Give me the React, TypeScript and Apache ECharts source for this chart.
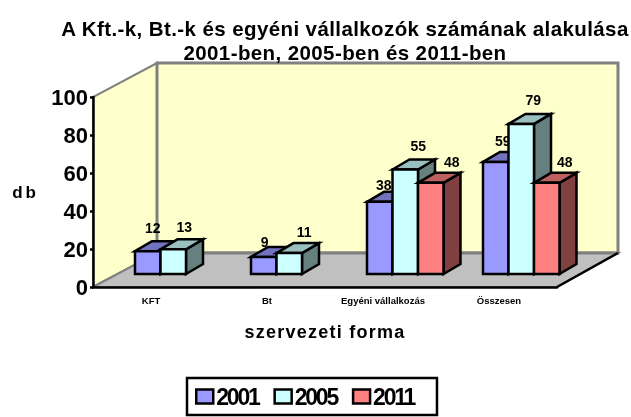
import React, { useEffect, useRef } from "react";
import * as echarts from "echarts";

const categories = ["KFT", "Bt", "Egyéni vállalkozás", "Összesen"];
const seriesNames = ["2001", "2005", "2011"];
const values2001 = [12, 9, 38, 59];
const values2005 = [13, 11, 55, 79];
const values2011 = [null, null, 48, 48];
const yTicks = { min: 0, max: 100, interval: 20 };
const titleText = "A Kft.-k, Bt.-k és egyéni vállalkozók számának alakulása\n2001-ben, 2005-ben és 2011-ben";
const xName = "szervezeti forma";
const yName = "db";

// layout of the pseudo-3D look
const WALL_DX = 64;
const WALL_DX_RIGHT = 61;
const WALL_DY = 34;
const BAR_DX = 17;
const BAR_DY = 10;
const BAR_SHIFT_X = 24;
const BAR_SHIFT_Y = 13;
const BAR_GROUP_GAP = 18;
const BAR_W = 25.5;
const LABEL_NUDGE = [
  [[5, 23], [1, 15], [4, 17], [7, 21]],
  [[11, 22], [15, 21], [13, 24], [12, 24]],
  [[0, 0], [0, 0], [21, 21], [18, 21]],
];
const FACES = [
  { front: "#9999FF", top: "#7272BF", side: "#4D4D80" },
  { front: "#CCFFFF", top: "#99BFBF", side: "#668080" },
  { front: "#FF8080", top: "#BF6060", side: "#804040" },
];
const TEXT_SPACING_CSS = `
#chart3d svg text[style*=" 20.5px"] { letter-spacing: 0.4px; }
#chart3d svg text[style*=" 18px"] { letter-spacing: 1.25px; }
#chart3d svg text[style*=" 17px"] { letter-spacing: 3px; }
#chart3d svg text[style*=" 23px"] { letter-spacing: -2.2px; }
`;

function poly(points: number[][], fill: string, stroke: string, lineWidth: number) {
  return { type: "polygon", shape: { points }, style: { fill, stroke, lineWidth, lineJoin: "miter" } };
}

function makeBarRender(seriesIdx: number) {
  return (params: any, api: any) => {
    const v = api.value(1);
    if (v === null || v === undefined || isNaN(v)) return null;
    const i = api.value(0);
    const band = api.size([1, 0])[0];
    const center = api.coord([i, 0]);
    const topC = api.coord([i, v]);
    const xl = center[0] - band / 2 + BAR_GROUP_GAP + BAR_SHIFT_X + seriesIdx * BAR_W;
    const xr = xl + BAR_W;
    const yb = center[1] - BAR_SHIFT_Y;
    const yt = topC[1] - BAR_SHIFT_Y;
    const c = FACES[seriesIdx];
    const nudge = LABEL_NUDGE[seriesIdx][i];
    return {
      type: "group",
      children: [
        {
          type: "text",
          style: {
            text: String(v),
            x: (xl + xr) / 2 + nudge[0],
            y: yt - nudge[1],
            align: "center",
            verticalAlign: "middle",
            fill: "#000",
            font: "bold 14px 'Liberation Sans'",
          },
        },
        poly([[xr, yb], [xr + BAR_DX, yb - BAR_DY], [xr + BAR_DX, yt - BAR_DY], [xr, yt]], c.side, "#000", 2.5),
        poly([[xl, yt], [xl + BAR_DX, yt - BAR_DY], [xr + BAR_DX, yt - BAR_DY], [xr, yt]], c.top, "#000", 2.5),
        poly([[xl, yb], [xr, yb], [xr, yt], [xl, yt]], c.front, "#000", 2.5),
      ],
    };
  };
}

function renderWalls(params: any) {
  const { x, y, width: w, height: h } = params.coordSys;
  const b = y + h;
  const wallGray = "#808080";
  const backL = x + WALL_DX;
  const backR = x + w + WALL_DX_RIGHT;
  return {
    type: "group",
    children: [
      poly([[x, b], [backL, b - WALL_DY], [backL, y - WALL_DY], [x, y]], "#FFFFCC", wallGray, 2),
      poly([[backL, b - WALL_DY], [backR, b - WALL_DY], [backR, y - WALL_DY], [backL, y - WALL_DY]], "#FFFFCC", wallGray, 3),
      poly([[x, b], [x + w, b], [backR, b - WALL_DY], [backL, b - WALL_DY]], "#C0C0C0", wallGray, 2),
      { type: "line", shape: { x1: backL, y1: b - WALL_DY, x2: backR, y2: b - WALL_DY }, style: { stroke: wallGray, lineWidth: 3 } },
      { type: "line", shape: { x1: x + w, y1: b, x2: backR, y2: b - WALL_DY }, style: { stroke: "#000", lineWidth: 2.5 } },
    ],
  };
}

export default function App() {
  const ref = useRef<HTMLDivElement>(null);
  useEffect(() => {
    const chart = echarts.init(ref.current!, null, { renderer: "svg" });
    const allValues = [values2001, values2005, values2011];
    chart.setOption({
      animation: false,
      textStyle: { fontFamily: "'Liberation Sans'" },
      title: {
        text: titleText,
        left: 340,
        top: 11,
        textAlign: "center",
        textStyle: { fontSize: 20.5, fontWeight: "bold", color: "#000", lineHeight: 24, fontFamily: "'Liberation Sans'" },
      },
      grid: { left: 93, top: 97, width: 464, height: 190 },
      legend: {
        left: 187,
        top: 378,
        orient: "horizontal",
        padding: [7, 14, 7, 8],
        itemWidth: 17,
        itemHeight: 14,
        itemGap: 6,
        borderColor: "#000",
        borderWidth: 2.5,
        textStyle: { fontSize: 23, fontWeight: "bold", color: "#000", padding: [0, 0, 0, -2], fontFamily: "'Liberation Sans'" },
        data: seriesNames.map((n, k) => ({
          name: n,
          icon: "rect",
          itemStyle: { color: FACES[k].front, borderColor: "#000", borderWidth: 2.5 },
        })),
      },
      xAxis: {
        type: "category",
        data: categories,
        z: 5,
        name: xName,
        nameLocation: "middle",
        nameGap: 36,
        nameTextStyle: { fontSize: 18, fontWeight: "bold", color: "#000" },
        axisLine: { lineStyle: { color: "#000", width: 2.5 } },
        axisTick: { length: 3, lineStyle: { color: "#000", width: 2.5 } },
        axisLabel: { fontSize: 9.5, fontWeight: "bold", color: "#000", margin: 8, interval: 0 },
      },
      yAxis: {
        type: "value",
        min: yTicks.min,
        max: yTicks.max,
        interval: yTicks.interval,
        z: 5,
        name: yName,
        nameLocation: "middle",
        nameRotate: 0,
        nameGap: 54,
        nameTextStyle: { fontSize: 17, fontWeight: "bold", color: "#000" },
        splitLine: { show: false },
        axisLine: { show: true, lineStyle: { color: "#000", width: 2.5 } },
        axisTick: { show: true, length: 3, lineStyle: { color: "#000", width: 2.5 } },
        axisLabel: { fontSize: 22, fontWeight: "bold", color: "#000", margin: 5, padding: [4, 0, 0, 0] },
      },
      series: [
        {
          type: "custom",
          name: "walls",
          coordinateSystem: "cartesian2d",
          silent: true,
          z: 0,
          renderItem: renderWalls,
          data: [[0, 0]],
          encode: { x: 0, y: 1 },
        },
        ...seriesNames.map((n, k) => ({
          type: "custom",
          name: n,
          coordinateSystem: "cartesian2d",
          z: 2,
          renderItem: makeBarRender(k),
          itemStyle: { color: FACES[k].front },
          encode: { x: 0, y: 1 },
          data: allValues[k].map((v, i) => [i, v === null ? "-" : v]),
        })),
      ],
    });
    return () => chart.dispose();
  }, []);
  return (
    <>
      <style>{TEXT_SPACING_CSS}</style>
      <div id="chart3d" ref={ref} style={{ position: "fixed", left: 0, top: 0, width: 631, height: 417 }} />
    </>
  );
}
